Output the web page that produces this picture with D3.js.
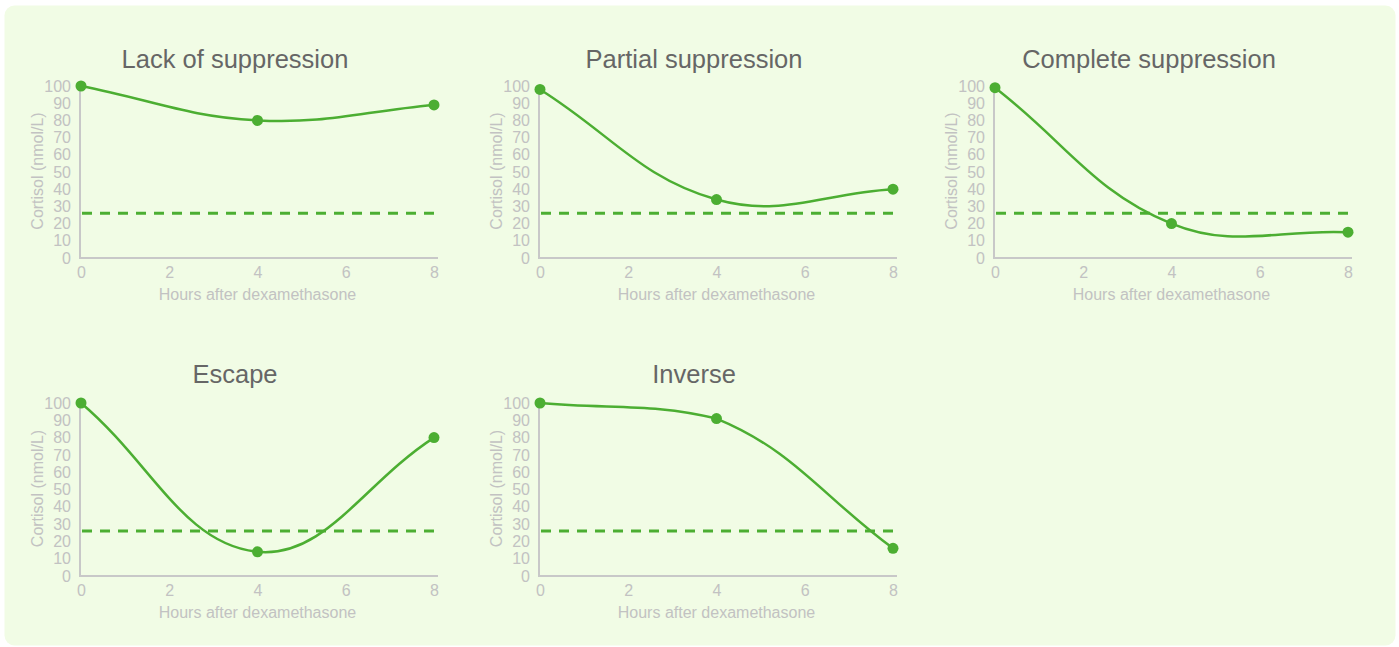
<!DOCTYPE html>
<html>
<head>
<meta charset="utf-8">
<script src="https://cdn.jsdelivr.net/npm/d3@7/dist/d3.min.js"></script>
<style>
  html, body { margin: 0; padding: 0; background: #ffffff; }
  svg { display: block; font-family: "Liberation Sans", Arial, Helvetica, sans-serif; }
</style>
</head>
<body>
<svg id="chart" width="1399" height="647"></svg>
<script>
// ---- data ----
const hours = [0, 4, 8];
const xTicks = [0, 2, 4, 6, 8];
const yTicks = [0, 10, 20, 30, 40, 50, 60, 70, 80, 90, 100];
const titles = ["Lack of suppression", "Partial suppression", "Complete suppression", "Escape", "Inverse"];
const lackOfSuppression = [100, 80, 89];
const partialSuppression = [98, 34, 40];
const completeSuppression = [99, 20, 15];
const escape = [100, 14, 80];
const inverse = [100, 91, 16];
const threshold = 26;
const xAxisTitle = "Hours after dexamethasone";
const yAxisTitle = "Cortisol (nmol/L)";

const seriesList = [lackOfSuppression, partialSuppression, completeSuppression, escape, inverse];

// ---- layout ----
const svg = d3.select("#chart");
const green = "#4cae32";
const grey = "#c2c2c2";
svg.append("rect").attr("x", 4.5).attr("y", 5.5).attr("width", 1391).attr("height", 640)
  .attr("rx", 10).attr("fill", "#f1fce5");

const panelLeft = [80, 539, 994, 80, 539];
const rowBottom = [258, 258, 258, 576, 576];
const rowTop = [86, 86, 86, 403, 403];
const titleY = [59, 59, 59, 374, 374];

// Chart.js-style spline (tension 0.4) on scaled pixel points, control points capped to the plot area
function splinePath(pts, tension, area) {
  const n = pts.length;
  const cap = (v, lo, hi) => Math.max(lo, Math.min(hi, v));
  const cps = pts.map((p, i) => {
    const prev = pts[Math.max(i - 1, 0)];
    const next = pts[Math.min(i + 1, n - 1)];
    const d01 = Math.hypot(p[0] - prev[0], p[1] - prev[1]);
    const d12 = Math.hypot(next[0] - p[0], next[1] - p[1]);
    let s01 = d01 / (d01 + d12), s12 = d12 / (d01 + d12);
    if (isNaN(s01)) s01 = 0;
    if (isNaN(s12)) s12 = 0;
    const fa = tension * s01, fb = tension * s12;
    const pr = [p[0] - fa * (next[0] - prev[0]), p[1] - fa * (next[1] - prev[1])];
    const nx = [p[0] + fb * (next[0] - prev[0]), p[1] + fb * (next[1] - prev[1])];
    return {
      prev: [cap(pr[0], area.left, area.right), cap(pr[1], area.top, area.bottom)],
      next: [cap(nx[0], area.left, area.right), cap(nx[1], area.top, area.bottom)]
    };
  });
  const path = d3.path();
  path.moveTo(pts[0][0], pts[0][1]);
  for (let i = 1; i < n; i++) {
    path.bezierCurveTo(cps[i - 1].next[0], cps[i - 1].next[1], cps[i].prev[0], cps[i].prev[1], pts[i][0], pts[i][1]);
  }
  return path.toString();
}

seriesList.forEach((values, k) => {
  const ox = panelLeft[k];
  const x = d3.scaleLinear().domain([0, 8]).range([ox + 1, ox + 354]);
  const y = d3.scaleLinear().domain([0, 100]).range([rowBottom[k], rowTop[k]]);
  const g = svg.append("g");

  // title
  g.append("text").attr("x", ox + 155).attr("y", titleY[k])
    .attr("text-anchor", "middle").attr("dominant-baseline", "central")
    .attr("font-size", 25.5).attr("fill", "#666666").text(titles[k]);

  // y axis
  const yAxis = d3.axisLeft(y).tickValues(yTicks).tickSize(0).tickPadding(9);
  const yg = g.append("g").attr("transform", `translate(${ox},0)`).call(yAxis);
  yg.select(".domain").remove();
  yg.selectAll("text").attr("font-size", 16).attr("fill", grey)
    .attr("font-family", "'Liberation Sans', Arial, sans-serif");
  g.append("line").attr("x1", ox).attr("x2", ox).attr("y1", y(100) + 1).attr("y2", rowBottom[k])
    .attr("stroke", "#c8c8c8").attr("stroke-width", 2);

  // x axis
  const xAxis = d3.axisBottom(x).tickValues(xTicks).tickSize(0).tickPadding(9);
  const xg = g.append("g").attr("transform", `translate(0,${rowBottom[k]})`).call(xAxis);
  xg.select(".domain").remove();
  xg.selectAll("text").attr("font-size", 16).attr("fill", grey)
    .attr("font-family", "'Liberation Sans', Arial, sans-serif");
  g.append("line").attr("x1", ox - 1).attr("x2", ox + 358).attr("y1", rowBottom[k]).attr("y2", rowBottom[k])
    .attr("stroke", "#c8c8c8").attr("stroke-width", 2);

  // axis titles
  g.append("text").attr("x", x(4)).attr("y", rowBottom[k] + 36)
    .attr("text-anchor", "middle").attr("dominant-baseline", "central")
    .attr("font-size", 16).attr("fill", grey).text(xAxisTitle);
  g.append("text")
    .attr("transform", `translate(${ox - 43},${(y(100) + y(0)) / 2 - 1}) rotate(-90)`)
    .attr("text-anchor", "middle").attr("dominant-baseline", "central")
    .attr("font-size", 16).attr("fill", grey).text(yAxisTitle);

  // threshold
  g.append("line").attr("x1", ox + 2).attr("x2", ox + 358).attr("y1", y(threshold)).attr("y2", y(threshold))
    .attr("stroke", green).attr("stroke-width", 3).attr("stroke-dasharray", "10,8");

  // line
  const pts = hours.map((h, i) => [x(h), y(values[i])]);
  const area = { left: x(0), right: x(8), top: y(100), bottom: y(0) };
  g.append("path").attr("d", splinePath(pts, 0.4, area)).attr("fill", "none")
    .attr("stroke", green).attr("stroke-width", 2.5);

  g.selectAll("circle").data(hours).join("circle")
    .attr("cx", d => x(d)).attr("cy", (d, i) => y(values[i])).attr("r", 5.5)
    .attr("fill", green);
});
</script>
</body>
</html>
